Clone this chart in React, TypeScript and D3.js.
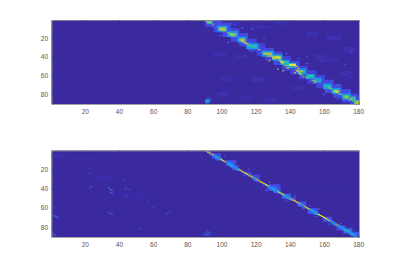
import React, { useEffect, useRef } from 'react';
import * as d3 from 'd3';

const xTicks = [20, 40, 60, 80, 100, 120, 140, 160, 180];
const yTicks = [20, 40, 60, 80];
const firstBandCol = 91;
const bandOffsets = [-4, -3, -2, -1, 0, 1, 2, 3, 4];

// strength 0-9 per column (91..180), rows are the diagonal + bandOffsets
const topBand = [
  [0,0,0,0,4,6,3,1,0],[0,0,0,3,6,2,5,0,2],[0,0,2,5,7,5,2,1,0],[0,1,3,4,5,4,3,1,0],[0,2,3,5,6,3,2,1,0],
  [0,1,2,4,5,4,2,2,0],[1,2,3,4,5,3,3,1,0],[0,2,3,4,5,4,2,1,1],[0,1,3,5,6,4,3,2,0],[1,2,4,6,7,6,3,2,0],
  [0,2,4,6,7,6,3,1,0],[1,2,3,5,6,4,3,2,1],[0,3,2,4,5,4,2,3,0],[1,2,4,5,6,5,3,1,0],[0,2,3,4,5,5,4,2,0],
  [2,1,3,5,7,6,4,2,1],[0,2,3,5,6,6,4,1,0],[1,1,3,3,5,4,3,2,0],[0,2,2,4,5,3,2,1,1],[0,1,3,4,4,4,3,1,0],
  [1,2,3,4,5,4,2,1,0],[0,1,3,4,5,5,3,2,0],[0,2,2,4,4,4,3,1,1],[1,1,2,3,4,7,3,2,0],[0,1,2,3,4,7,2,1,0],
  [0,1,3,3,3,6,3,1,0],[0,1,2,3,3,3,2,1,0],[0,0,2,3,4,3,2,1,0],[0,1,2,3,4,4,2,0,0],[0,1,2,4,5,4,2,1,0],
  [0,1,3,4,5,4,2,1,0],[0,1,2,4,5,3,2,0,1],[0,0,2,3,3,4,2,1,0],[0,1,2,3,4,3,2,1,0],[0,1,2,4,4,3,3,1,0],
  [0,0,2,3,4,4,2,0,0],[0,1,2,3,5,3,6,1,0],[0,1,2,3,5,7,2,5,0],[0,0,1,4,7,5,4,0,0],[0,0,1,3,7,8,2,1,0],
  [0,1,2,3,6,7,2,0,0],[0,0,2,3,4,3,2,1,0],[0,0,1,2,3,2,2,0,0],[0,1,2,6,7,5,1,0,0],[0,0,2,6,8,7,3,0,0],
  [0,1,2,5,8,6,3,3,0],[0,0,3,4,5,5,6,4,0],[0,1,2,3,4,6,5,6,0],[0,0,2,3,3,5,2,7,1],[0,0,1,3,4,4,2,1,0],
  [0,1,2,4,5,4,1,0,0],[0,0,2,4,5,3,2,0,0],[0,0,1,3,3,3,1,1,0],[0,1,2,3,7,7,2,0,0],[0,0,3,4,8,7,3,0,0],
  [0,1,2,5,7,6,6,1,0],[0,1,2,3,4,3,6,2,0],[0,0,2,3,3,3,5,6,0],[0,1,2,3,4,5,2,1,0],[0,0,2,4,4,5,3,0,0],
  [0,1,2,3,4,4,2,0,0],[0,0,2,3,4,3,2,5,0],[0,1,2,3,5,5,6,4,0],[0,0,2,3,4,6,3,6,1],[0,1,1,3,4,7,2,1,0],
  [0,0,2,3,4,4,2,1,0],[0,1,2,3,5,4,2,1,0],[0,0,2,4,5,3,2,0,0],[1,1,3,4,5,3,2,1,0],[0,1,2,4,4,4,3,1,0],
  [1,2,3,4,5,3,2,0,1],[0,1,3,4,5,4,2,1,0],[0,2,3,4,6,4,3,1,0],[1,2,3,5,6,5,3,2,0],[0,1,3,4,5,4,2,1,0],
  [0,2,3,4,6,7,3,2,1],[1,2,3,5,6,7,4,1,0],[0,2,3,4,5,5,3,2,0],[0,1,2,4,5,6,4,1,0],[1,2,3,4,6,5,3,2,1],
  [0,1,3,4,5,4,3,1,0],[1,2,3,5,6,5,3,2,0],[0,2,3,4,6,6,4,1,0],[0,1,3,5,6,5,3,0,0],[2,1,3,4,5,6,3,0,0],
  [0,2,3,4,5,5,0,0,0],[1,2,3,5,6,0,0,0,0],[0,2,4,5,6,0,0,0,0],[1,3,4,6,6,0,0,0,0],[2,3,5,7,6,0,0,0,0],
];

const bottomBand = [
  [0,0,0,0,6,0,0,0,0],[0,0,0,0,9,1,0,0,0],[0,0,0,0,9,2,0,0,0],[0,0,0,0,8,2,0,0,0],[0,0,0,1,9,2,1,0,0],
  [0,0,1,2,3,3,2,1,0],[0,0,1,2,4,4,2,0,0],[0,1,1,3,4,3,2,0,0],[0,0,2,2,6,3,1,0,0],[0,0,1,3,8,2,1,0,0],
  [0,0,0,1,9,2,0,0,0],[0,0,0,1,8,1,0,0,0],[0,0,1,2,2,2,1,1,0],[0,1,2,3,4,3,2,1,0],[0,0,1,2,4,3,2,0,0],
  [0,1,2,3,4,4,2,1,0],[0,0,1,3,3,3,2,2,0],[0,0,1,2,3,2,3,1,0],[0,1,2,2,3,3,2,1,0],[0,0,1,2,6,2,1,0,0],
  [0,0,0,1,9,1,0,0,0],[0,0,0,1,9,2,0,0,0],[0,0,0,0,8,1,0,0,0],[0,0,0,1,9,1,0,0,0],[0,0,0,0,9,1,0,0,0],
  [0,0,0,1,8,2,1,0,0],[0,0,0,1,9,1,0,0,0],[0,0,0,1,9,1,0,0,0],[0,0,1,2,4,2,3,1,0],[0,0,0,2,6,3,2,1,0],
  [0,0,1,1,9,2,1,0,0],[0,0,0,1,8,2,1,0,0],[0,0,0,0,9,1,1,0,0],[0,0,0,0,9,1,0,0,0],[0,0,0,0,9,2,0,0,0],
  [0,0,0,1,9,1,0,0,0],[0,0,0,1,9,0,0,0,0],[1,0,1,2,4,3,0,0,0],[0,1,1,2,3,3,2,0,0],[1,1,2,3,3,3,2,1,0],
  [0,1,2,3,3,3,3,2,0],[0,0,1,2,3,2,2,1,0],[0,1,2,3,6,3,2,1,0],[0,0,1,2,9,2,1,1,0],[0,0,1,1,9,2,1,1,0],
  [0,0,0,1,9,2,2,1,0],[0,0,0,1,6,3,1,1,0],[0,0,1,2,4,4,2,1,0],[0,0,0,1,4,3,2,0,0],[0,0,0,1,6,3,1,0,0],
  [0,0,1,1,8,2,1,0,0],[0,0,0,1,9,1,0,0,0],[0,0,0,1,9,1,0,0,0],[0,0,0,0,9,1,0,0,0],[0,0,1,1,9,2,0,0,0],
  [0,0,1,1,8,2,2,0,0],[0,1,2,2,4,3,1,0,0],[0,0,1,2,5,2,2,0,0],[0,0,0,1,9,2,1,0,0],[0,0,0,1,9,1,0,0,0],
  [0,0,0,1,9,1,0,0,0],[0,0,1,2,5,3,2,0,0],[0,1,1,3,3,3,1,1,0],[0,1,2,2,4,3,2,0,0],[0,0,1,3,3,4,3,1,0],
  [0,0,1,2,5,3,1,0,0],[0,0,0,1,9,2,1,0,0],[0,0,0,1,9,1,0,0,0],[0,0,0,1,9,1,0,0,0],[0,0,0,1,9,1,1,0,0],
  [0,0,0,1,9,2,0,0,0],[0,0,0,1,9,2,0,0,0],[0,0,0,1,8,3,1,0,0],[0,0,0,2,5,2,1,0,0],[0,1,1,2,3,4,2,1,0],
  [0,0,1,2,3,3,2,1,0],[0,0,0,1,8,2,2,0,0],[0,0,0,1,8,3,1,1,0],[0,0,1,2,4,3,2,1,0],[0,0,1,2,3,4,2,1,0],
  [0,0,1,3,4,3,2,1,0],[0,1,1,2,3,4,3,1,0],[0,0,1,2,4,5,2,0,0],[0,0,1,2,5,4,2,1,0],[0,0,0,2,4,4,3,0,0],
  [0,0,1,2,3,4,3,1,0],[0,0,0,1,3,4,2,0,0],[0,0,0,1,3,3,2,0,0],[0,0,0,0,1,3,1,0,0],[0,0,0,0,1,2,0,0,0],
];

// loose cells away from the diagonal: [col, row, strength]
const topSpots = [
  [91,86,3],[92,86,4],[93,85,2],[91,87,4],[92,87,3],[93,87,3],[91,88,3],[92,88,4],[93,88,2],[91,89,3],[92,89,3],[92,84,1],
  [94,85,1],[108,5,1],[125,20,1],[128,8,1],[150,40,1],[158,44,1],[176,35,1],[175,62,1],[172,48,1],
  [118,10,2],[112,9,2],[99,17,2],[104,24,2],[118,34,2],[125,39,2],[138,36,2],[145,42,2],[150,47,2],
  [133,53,6],[136,55,6],[143,57,7],[146,58,7],[150,62,6],[122,32,7],[128,44,7],[168,70,4],[175,78,3],[160,80,2],[168,85,2],
  [112,23,8],[113,24,8],[114,25,8],[144,50,8],[145,52,8],[147,55,7],[167,76,8],[168,78,8],[176,85,7],
];
// soft patches and the blue shell round the band: [colFrom, colTo, rowFrom, rowTo, strength]
const topRuns = [
  [104,110,3,6,0.3],[118,124,6,9,0.25],[132,138,3,5,0.25],[150,156,14,17,0.25],[162,170,18,21,0.3],[172,178,30,34,0.25],
  [96,102,36,39,0.3],[108,114,38,41,0.3],[100,106,62,65,0.25],[118,124,62,66,0.3],[142,148,72,75,0.25],[155,160,38,41,0.3],
  [98,104,78,82,0.3],[110,116,82,85,0.25],[126,132,84,87,0.3],[160,168,42,45,0.25],[170,176,56,60,0.25],
  [91,95,1,7,1.1],[96,100,1,13,1.1],[101,105,4,18,1.1],[106,110,10,23,1.1],[111,115,15,28,1.1],[116,120,21,33,1],
  [121,125,26,38,1],[126,130,31,43,1],[131,135,35,48,1.1],[136,140,40,54,1],[141,145,45,58,1.1],[146,150,50,63,1],
  [151,155,55,68,1],[156,160,60,73,1],[161,165,65,78,1.1],[166,170,70,83,1.1],[171,175,75,88,1.1],[176,180,80,90,1.1],
  // hot blobs along the band
  [92,94,2,4,5],[98,103,7,12,3.5],[99,102,9,11,7],[104,109,13,18,3.5],[105,108,15,16,6],[110,114,19,24,3.5],[111,113,21,22,7],
  [115,121,26,31,3.5],[117,120,28,29,5],[124,130,34,39,3.5],[125,129,36,37,7],[130,135,38,43,4.5],[131,134,40,41,8.5],
  [135,139,44,48,3.5],[136,138,45,46,5],[139,143,47,51,4.5],[140,143,48,49,8.5],[145,149,53,58,3.5],[146,148,55,56,5],
  [150,154,59,63,3.5],[151,153,60,61,5],[155,158,63,67,3.5],[160,164,69,74,3.5],[161,163,71,72,5],[165,169,74,79,3.5],[166,168,76,77,7],
  [171,175,80,85,3.5],[172,174,82,83,6],[176,178,83,86,5],[178,180,87,90,5],[179,180,88,90,7],
];
const bottomSpots = [
  [2,68,1.5],[3,69,2],[4,70,1.5],[1,86,2],[2,88,1.5],[3,89,1],[2,60,1],[22,19,1],[23,24,1],[24,38,1],[23,39,1],
  [34,39,1.5],[35,41,2],[36,42,1.5],[35,44,1.5],[36,45,1.5],[34,65,1],[35,66,1.5],[36,67,1],[44,40,1.5],[46,41,1],
  [43,31,1],[44,48,1],[53,50,1],[57,52,1],[60,60,1],[52,82,1],[70,64,1],[68,66,1],[91,86,1],[92,85,2],[93,86,1.5],
  [91,88,2],[92,88,2],[93,88,1],[90,88,1.5],
  [97,10,1.5],[102,6,1],[106,18,1.5],[110,16,1],[116,20,1],[121,33,1],[128,33,1.5],[133,36,1],[126,42,1.5],[138,53,1.5],
  [143,47,1],[148,61,1.5],[152,58,1],[157,61,1],[155,69,1.5],[163,77,1.5],[170,76,1],[172,86,1.5],[176,81,1],[178,84,1],
];
const bottomRuns = [
  [92,178,39,39,0.2],[25,36,28,30,0.2],[1,6,4,8,0.2],[10,30,8,9,0.15],[40,60,44,47,0.12],
  [95,99,4,8,1.2],[103,108,11,16,1.2],[104,106,13,14,2],[113,117,23,26,0.8],[118,122,26,30,1],
  [127,134,36,42,1],[129,132,38,40,1.8],[136,140,46,50,1.8],[140,143,49,52,1],[145,149,54,58,1.2],[151,156,61,66,1.3],
  [160,164,70,74,1.3],[168,172,79,83,1.3],[172,176,82,86,2],[176,180,86,89,1.8],
];

const parula = d3.scaleLinear<string>()
  .domain([0, 1.3, 2.6, 3.9, 5.1, 6.4, 7.7, 9])
  .range(['#3a2a9f', '#4852f4', '#2d87f7', '#12b1d6', '#37c897', '#abc739', '#fec338', '#f9fb15'])
  .clamp(true);

const panels = [
  { top: 20, bottom: 104, band: topBand, spots: topSpots, runs: topRuns, bandOnTop: false },
  { top: 150.5, bottom: 237, band: bottomBand, spots: bottomSpots, runs: bottomRuns, bandOnTop: true },
];

const App = () => {
  const ref = useRef<SVGSVGElement>(null);

  useEffect(() => {
    const svg = d3.select(ref.current);
    svg.selectAll('*').remove();
    const x = d3.scaleLinear().domain([0.5, 180.5]).range([51.5, 359]);

    // the picture is a little soft, as if it was scaled down
    svg.append('defs').append('filter').attr('id', 'soft')
      .attr('x', 0).attr('y', 0).attr('width', 1).attr('height', 1)
      .append('feGaussianBlur').attr('stdDeviation', 0.45);

    panels.forEach((p) => {
      const y = d3.scaleLinear().domain([0.5, 90.5]).range([p.top, p.bottom]);
      const g = svg.append('g');
      const heat = g.append('g').attr('filter', 'url(#soft)');

      heat.append('rect')
        .attr('x', x(0.5)).attr('y', y(0.5))
        .attr('width', x(180.5) - x(0.5)).attr('height', y(90.5) - y(0.5))
        .attr('fill', parula(0));

      // turn the diagonal columns and the runs into cells
      const bandCells: number[][] = [];
      p.band.forEach((vals, i) => {
        const col = firstBandCol + i;
        vals.forEach((v, j) => {
          const row = col - 90 + bandOffsets[j];
          if (v > 0 && row >= 1 && row <= 90) bandCells.push([col, row, v]);
        });
      });
      const runCells: number[][] = [];
      p.runs.forEach(([c0, c1, r0, r1, v]) => {
        for (let c = c0; c <= c1; c++) for (let r = r0; r <= r1; r++) runCells.push([c, r, v]);
      });
      const cells = p.bandOnTop
        ? [...runCells, ...bandCells.filter((d) => d[2] >= 2), ...p.spots]
        : [...bandCells.filter((d) => d[2] < 4), ...runCells, ...bandCells.filter((d) => d[2] >= 6), ...p.spots];

      heat.append('g').selectAll('rect').data(cells).join('rect')
        .attr('x', (d) => x(d[0] - 0.5))
        .attr('y', (d) => y(d[1] - 0.5))
        .attr('width', x(1.5) - x(0.5) + 0.2)
        .attr('height', y(1.5) - y(0.5) + 0.2)
        .attr('fill', (d) => parula(d[2]));

      const axB = g.append('g').attr('transform', `translate(0,${p.bottom})`)
        .call(d3.axisBottom(x).tickValues(xTicks).tickSize(-2).tickPadding(5).tickFormat(d3.format('d') as any));
      const axT = g.append('g').attr('transform', `translate(0,${p.top})`)
        .call(d3.axisTop(x).tickValues(xTicks).tickSize(-2).tickFormat(() => ''));
      const axL = g.append('g').attr('transform', `translate(${x(0.5)},0)`)
        .call(d3.axisLeft(y).tickValues(yTicks).tickSize(-2).tickPadding(3.5).tickFormat(d3.format('d') as any));
      const axR = g.append('g').attr('transform', `translate(${x(180.5)},0)`)
        .call(d3.axisRight(y).tickValues(yTicks).tickSize(-2).tickFormat(() => ''));

      [axB, axT, axL, axR].forEach((a) => {
        a.select('.domain').attr('stroke', '#8e8e8e').attr('stroke-width', 0.8);
        a.selectAll('.tick line').attr('stroke', '#262626').attr('stroke-width', 0.5).attr('opacity', 0.6);
        a.selectAll('text').attr('font-family', '"Liberation Sans", Arial, sans-serif')
          .attr('font-size', 6.5).attr('fill', '#555');
      });
    });
  }, []);

  return (
    <svg ref={ref} width={397} height={267}
      style={{ position: 'absolute', left: 0, top: 0, background: '#fff' }} />
  );
};

export default App;
